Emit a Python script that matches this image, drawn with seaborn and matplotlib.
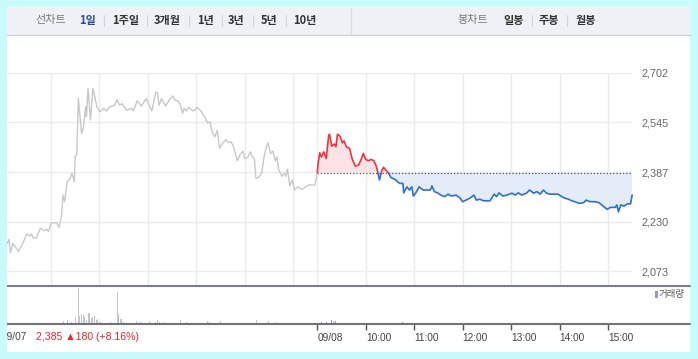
import matplotlib
matplotlib.use("Agg")
import matplotlib.pyplot as plt
from matplotlib.patches import Rectangle
from matplotlib.lines import Line2D
import numpy as np
import seaborn as sns

# 시간축: 09/07 09:00 = 0분, 09/07 15:30 = 09/08 09:00 = 390분, 09/08 15:30 = 780분
day1_t = [6, 8, 10, 13, 20, 26, 30, 34, 36, 38, 42, 47, 51, 55, 57, 60, 67, 70, 73, 75,
          77, 80, 84, 86, 89, 90, 92, 94, 98, 100, 103, 104, 106, 109, 112, 117, 121, 125, 129, 133,
          139, 142, 145, 148, 154, 160, 162, 167, 172, 178, 185, 190, 192, 194, 197, 202, 207, 211, 214, 217,
          220, 223, 225, 228, 231, 236, 238, 241, 245, 250, 254, 257, 260, 263, 266, 269, 273, 277, 280, 283,
          286, 289, 291, 294, 298, 300, 304, 307, 309, 312, 314, 317, 321, 324, 327, 329, 332, 335, 338, 340,
          342, 346, 349, 351, 353, 356, 359, 362, 366, 371, 375, 379, 387, 390]
day1_p = [2161, 2174, 2132, 2161, 2135, 2166, 2191, 2184, 2191, 2178, 2178, 2209, 2201, 2206, 2198, 2225, 2227, 2212, 2246, 2314,
          2293, 2356, 2367, 2383, 2356, 2438, 2441, 2620, 2509, 2525, 2594, 2562, 2652, 2552, 2652, 2594, 2578, 2589, 2581, 2594,
          2599, 2617, 2599, 2604, 2583, 2589, 2581, 2613, 2596, 2620, 2581, 2641, 2638, 2599, 2620, 2596, 2617, 2628, 2615, 2613,
          2604, 2573, 2589, 2581, 2592, 2581, 2583, 2592, 2583, 2564, 2543, 2546, 2511, 2499, 2518, 2462, 2480, 2490, 2480, 2483,
          2469, 2441, 2423, 2441, 2454, 2430, 2434, 2451, 2438, 2430, 2367, 2370, 2383, 2435, 2467, 2480, 2446, 2454, 2423, 2434,
          2396, 2374, 2383, 2374, 2396, 2343, 2362, 2330, 2340, 2332, 2339, 2346, 2346, 2385]

day2_t = [390, 391, 393, 395, 398, 401, 404, 405, 408, 411, 413, 415, 418, 421, 423, 426, 430, 433, 437, 441,
          444, 447, 450, 453, 457, 460, 463, 465, 467, 470, 472, 475, 478, 481, 486, 492, 496, 497, 501, 504,
          507, 509, 512, 516, 521, 530, 532, 535, 539, 543, 548, 552, 556, 562, 567, 570, 574, 579, 584, 587,
          591, 596, 604, 609, 612, 615, 620, 625, 631, 635, 639, 643, 649, 653, 658, 662, 666, 670, 674, 678,
          684, 688, 693, 697, 701, 705, 709, 714, 720, 723, 728, 734, 739, 744, 749, 753, 759, 761, 763, 766,
          770, 774, 778, 780]
day2_p = [2385, 2415, 2448, 2435, 2451, 2430, 2501, 2507, 2469, 2476, 2467, 2507, 2501, 2480, 2486, 2467, 2462, 2430, 2406, 2409,
          2425, 2446, 2427, 2423, 2427, 2423, 2406, 2385, 2362, 2393, 2402, 2393, 2385, 2370, 2364, 2351, 2351, 2321, 2340, 2330,
          2340, 2311, 2321, 2340, 2330, 2330, 2343, 2325, 2321, 2314, 2309, 2317, 2311, 2314, 2304, 2293, 2298, 2304, 2314, 2298,
          2301, 2296, 2296, 2317, 2309, 2321, 2311, 2314, 2320, 2314, 2321, 2314, 2320, 2330, 2320, 2325, 2317, 2330, 2320, 2317,
          2317, 2317, 2309, 2304, 2301, 2296, 2293, 2288, 2290, 2298, 2293, 2293, 2290, 2279, 2269, 2275, 2275, 2283, 2261, 2283,
          2279, 2286, 2286, 2314]
ref_price = 2385

# 거래량 (임의 단위)
vol1_t = [9, 12, 46, 52, 75, 78, 80, 83, 85, 88, 91, 94, 96, 98, 100, 101, 104, 107, 108, 110,
          112, 114, 117, 118, 120, 122, 124, 127, 129, 132, 134, 137, 139, 142, 144, 146, 148, 150, 153, 155,
          158, 160, 163, 166, 168, 170, 172, 175, 177, 179, 182, 184, 187, 189, 192, 194, 197, 199, 202, 205,
          210, 213, 215, 221, 224, 228, 230, 238, 243, 248, 254, 256, 259, 262, 265, 270, 272, 280, 285, 288,
          291, 295, 298, 302, 306, 310, 315, 318, 321, 325, 328, 330, 333, 336, 340, 343, 346, 349, 353, 356,
          360, 364, 368, 372, 377, 381, 386]
vol1_v = [10, 10, 10, 10, 30, 10, 40, 10, 20, 13, 70, 360, 80, 100, 90, 70, 40, 110, 110, 60,
          70, 80, 40, 50, 20, 20, 10, 30, 10, 13, 20, 10, 10, 320, 100, 50, 50, 20, 20, 10,
          10, 10, 10, 30, 10, 20, 20, 10, 10, 10, 30, 10, 10, 20, 40, 20, 10, 20, 10, 10,
          10, 10, 10, 40, 10, 20, 10, 10, 10, 10, 30, 20, 10, 40, 10, 30, 10, 10, 10, 13,
          10, 13, 10, 10, 13, 10, 40, 13, 10, 13, 10, 30, 13, 10, 20, 13, 10, 10, 13, 10,
          10, 13, 10, 10, 10, 10, 10]
vol2_t = [392, 395, 398, 401, 404, 407, 410, 413, 416, 419, 422, 431, 434, 437, 440, 443, 446, 463, 467, 471,
          496, 498, 750]
vol2_v = [13, 20, 13, 20, 13, 40, 20, 30, 13, 13, 10, 13, 10, 13, 10, 13, 10, 13, 10, 13,
          20, 10, 13]

grid_t = [60, 120, 180, 240, 300, 360, 390, 450, 510, 570, 630, 690, 750]
price_ticks = [2073, 2230, 2387, 2545, 2702]
price_labels = ['2,073', '2,230', '2,387', '2,545', '2,702']
time_ticks = [390, 450, 510, 570, 630, 690, 750]
time_labels = ['09/08', '10:00', '11:00', '12:00', '13:00', '14:00', '15:00']

W, H = 698, 359
def fx(px):
    return px / W
def fy(py):
    return 1 - py / H

sns.set_theme(style="white")
plt.rcParams['font.family'] = ['Liberation Sans', 'DejaVu Sans']
KR = ['Noto Sans CJK KR', 'DejaVu Sans']
CYAN = '#c9fbfd'

fig = plt.figure(figsize=(W / 100, H / 100), dpi=100)
fig.patch.set_facecolor(CYAN)

# 흰 패널 + 상단 메뉴 바
fig.add_artist(Rectangle((fx(7), fy(352)), fx(690) - fx(7), fy(7) - fy(352), transform=fig.transFigure,
                         facecolor='white', edgecolor='none', zorder=-10))
fig.add_artist(Rectangle((fx(7), fy(35)), fx(690) - fx(7), fy(7) - fy(35), transform=fig.transFigure,
                         facecolor='#f0f1f6', edgecolor='none', zorder=-9))
fig.add_artist(Line2D([fx(7), fx(690)], [fy(35), fy(35)], transform=fig.transFigure, color='#cfd0d6', lw=1))
fig.add_artist(Line2D([fx(351), fx(351)], [fy(8), fy(34)], transform=fig.transFigure, color='#dcdde2', lw=1))

menu = [('선차트', 35, '#7a7a7a', 'normal'), ('1일', 79, '#2b4a9e', 'bold'), ('1주일', 112, '#333333', 'bold'),
        ('3개월', 154, '#333333', 'bold'), ('1년', 197, '#333333', 'bold'), ('3년', 228, '#333333', 'bold'),
        ('5년', 261, '#333333', 'bold'), ('10년', 293, '#333333', 'bold'),
        ('봉차트', 457, '#7a7a7a', 'normal'), ('일봉', 503, '#333333', 'bold'), ('주봉', 539, '#333333', 'bold'),
        ('월봉', 576, '#333333', 'bold')]
for txt, x, c, w in menu:
    fig.text(fx(x), fy(20.5), txt, color=c, fontweight=w, fontsize=8, family=KR, va='center', ha='left')
for x in [104, 147, 189, 222, 253, 286, 532, 567]:
    fig.add_artist(Line2D([fx(x), fx(x)], [fy(15), fy(26)], transform=fig.transFigure, color='#d5d6dc', lw=0.8))

# 가격 차트
ax = fig.add_axes([fx(7), fy(285), fx(632) - fx(7), fy(72.7) - fy(285)])
ax.set_facecolor('none')
ax.set_xlim(5.6, 779.8)
ax.set_ylim(2029, 2702)
for v in price_ticks:
    ax.axhline(v, color='#ebebef', lw=1, zorder=0)
for t in grid_t:
    ax.axvline(t, color='#ebebef', lw=1, zorder=0)

t2 = np.array(day2_t)
p2 = np.array(day2_p)
ax.fill_between(t2, p2, ref_price, where=p2 >= ref_price, interpolate=True, color='#fde3e6', lw=0, zorder=1)
ax.fill_between(t2, p2, ref_price, where=p2 <= ref_price, interpolate=True, color='#e3ecf8', lw=0, zorder=1)
ax.plot([390, 780], [ref_price, ref_price], color='#555555', lw=0.9, dashes=(1, 1.6), zorder=2)

sns.lineplot(x=day1_t, y=day1_p, ax=ax, color='#c8c8cc', lw=1, sort=False, estimator=None, zorder=3)
sns.lineplot(x=day2_t, y=day2_p, ax=ax, color='#ee3440', lw=1.2, sort=False, estimator=None, zorder=3)
ax.lines[-1].set_clip_path(Rectangle((0, ref_price), 1000, 2000, transform=ax.transData))
sns.lineplot(x=day2_t, y=day2_p, ax=ax, color='#2f6fd6', lw=1.2, sort=False, estimator=None, zorder=3)
ax.lines[-1].set_clip_path(Rectangle((0, 1000), 1000, ref_price - 1000, transform=ax.transData))

ax.yaxis.tick_right()
ax.set_yticks(price_ticks)
ax.set_yticklabels(price_labels, fontsize=7.8, color='#666666')
ax.tick_params(axis='y', length=0, pad=7.2)
ax.set_xticks([])
ax.set_xlabel('')
ax.set_ylabel('')
for s in ax.spines.values():
    s.set_visible(False)

fig.add_artist(Line2D([fx(7), fx(690)], [fy(285.5), fy(285.5)], transform=fig.transFigure, color='#7b7e85', lw=1.5))

# 거래량 차트
vax = fig.add_axes([fx(7), fy(324), fx(690) - fx(7), fy(286) - fy(324)])
vax.set_facecolor('none')
vax.set_xlim(5.6, 851.6)
vax.set_ylim(0, 380)
vax.bar(vol1_t, vol1_v, width=1.2, color='#c4c4cc', lw=0)
vax.bar(vol2_t, vol2_v, width=1.2, color='#9d8fd0', lw=0)
vax.axhline(0, color='#70737a', lw=1.5, clip_on=False)
for s in vax.spines.values():
    s.set_visible(False)
vax.set_yticks([])
vax.set_xticks(time_ticks)
vax.set_xticklabels(time_labels, fontsize=7.3, color='#444444')
for lbl in vax.get_xticklabels():
    lbl.set_ha('left')
vax.tick_params(axis='x', bottom=True, length=4, width=1, color='#555555', direction='out', pad=2.5)

fig.text(fx(2), fy(337), '09/07', fontsize=7.3, color='#444444', va='center', ha='left')
fig.text(fx(36), fy(337), '2,385 ▲180 (+8.16%)', fontsize=7.6, color='#e8262e', va='center', ha='left')
fig.add_artist(Rectangle((fx(655), fy(298)), 2.5 / W, 7 / H, transform=fig.transFigure,
                         facecolor='#9d8fd0', edgecolor='none'))
fig.text(fx(659), fy(294.5), '거래량', fontsize=6.8, color='#555555', family=KR, va='center', ha='left')

# 왼쪽 잘림 가리기
fig.add_artist(Rectangle((0, 0), fx(7), 1, transform=fig.transFigure, facecolor=CYAN, edgecolor='none', zorder=20))

fig.savefig('out.png', dpi=100)
